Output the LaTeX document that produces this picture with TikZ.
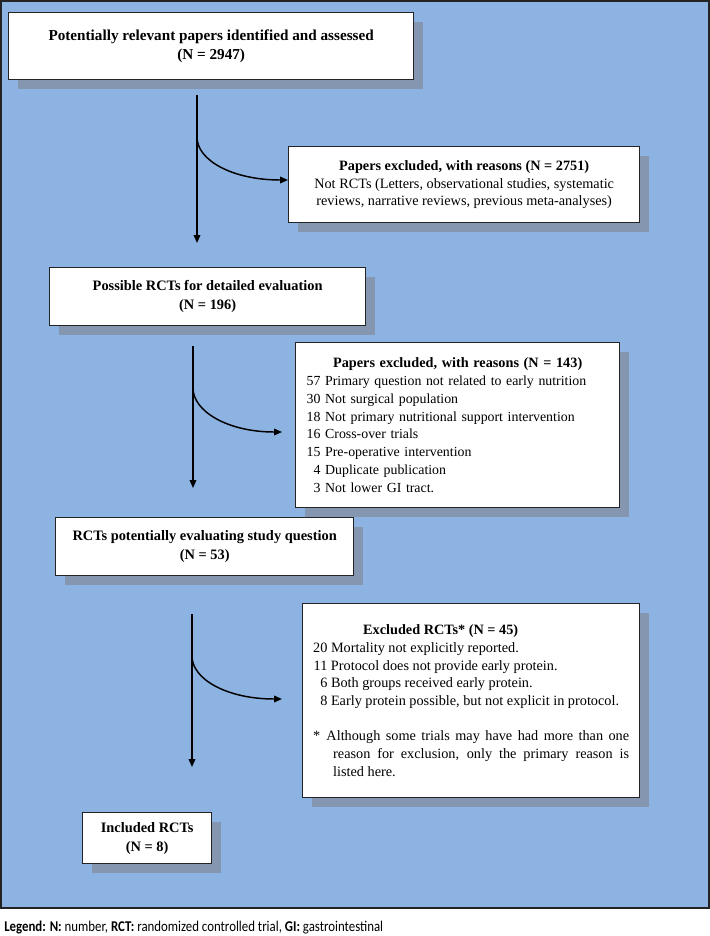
\documentclass[tikz,border=0pt]{standalone}
\usepackage{fontspec}
\setmainfont{Liberation Serif}
\newfontfamily\legendfont{Carlito}
\usetikzlibrary{arrows.meta,shadows}

\definecolor{panelblue}{RGB}{141,179,226}
\definecolor{shadowgray}{RGB}{132,150,176}
\definecolor{edgegray}{RGB}{35,35,35}

\newcommand\ncount[1]{\makebox[1em][r]{#1}\ }

\tikzset{
  box/.style={draw=edgegray,line width=1pt,fill=white,anchor=north west,inner sep=0pt,
    drop shadow={shadow xshift=6.75pt,shadow yshift=-6.75pt,fill=shadowgray,opacity=1}},
  head/.style={font=\fontsize{10.8}{14.3}\selectfont\bfseries,align=center},
  list/.style={font=\fontsize{10.7}{13.3}\selectfont},
  flow/.style={-{Triangle[length=6pt,width=5pt]},line width=1.1pt}
}

\begin{document}
\begin{tikzpicture}[x=0.75pt,y=-0.75pt]
  \useasboundingbox (0,0) rectangle (710,936);

  % Panel
  \draw[fill=panelblue,draw=edgegray,line width=1.1pt] (0.8,0.8) rectangle (709.2,908);

  % Boxes
  \node[box,minimum width=303.75pt,minimum height=50.25pt,align=center,
        font=\fontsize{11.4}{13.8}\selectfont\bfseries] (found) at (8,12)
        {Potentially relevant papers identified and assessed\\(N = 2947)};
  \node[box,list,minimum width=263.25pt,minimum height=57pt,align=center] (excl1) at (288,146)
        {\textbf{Papers excluded, with reasons (N = 2751)}\\
         Not RCTs (Letters, observational studies, systematic\\
         reviews, narrative reviews, previous meta-analyses)};
  \node[box,head,minimum width=237pt,minimum height=43.5pt] (possible) at (49,267)
        {Possible RCTs for detailed evaluation\\(N = 196)};
  \node[box,font=\fontsize{10.4}{13.3}\selectfont,minimum width=243pt,minimum height=123.75pt,
        text width=226.5pt,align=left] (excl2) at (295,342)
        {\makebox[226.5pt]{\fontsize{10.7}{13.3}\selectfont\bfseries Papers excluded, with reasons (N = 143)}\\
         \ncount{57}Primary question not related to early nutrition\\
         \ncount{30}Not surgical population\\
         \ncount{18}Not primary nutritional support intervention\\
         \ncount{16}Cross-over trials\\
         \ncount{15}Pre-operative intervention\\
         \ncount{4}Duplicate publication\\
         \ncount{3}Not lower GI tract.};
  \node[box,head,minimum width=223.5pt,minimum height=43.5pt] (potential) at (55,517)
        {RCTs potentially evaluating study question\\(N = 53)};
  \node[box,list,minimum width=252.75pt,minimum height=145.5pt,text width=237pt,align=justify] (excl3) at (302,603)
        {\hspace*{37.5pt}\textbf{Excluded RCTs* (N = 45)}\\
         \ncount{20}Mortality not explicitly reported.\\
         \ncount{11}Protocol does not provide early protein.\\
         \ncount{6}Both groups received early protein.\\
         \ncount{8}Early protein possible, but not explicit in protocol.\par
         \vspace{13pt}
         \noindent\hangindent=15pt\hangafter=1\makebox[10pt][l]{*}Although some trials may have had more than one\linebreak
         reason for exclusion, only the primary reason is\linebreak
         listed here.\par};
  \node[box,head,minimum width=96.75pt,minimum height=38.25pt] (included) at (82,812)
        {Included RCTs\\(N = 8)};

  % Arrows
  \coordinate (s1) at (197,95);  \coordinate (b1) at (197,137); \coordinate (e1) at (197,243);
  \coordinate (t1) at (288,180);
  \coordinate (s2) at (193,346); \coordinate (b2) at (193,388); \coordinate (e2) at (193,488);
  \coordinate (t2) at (282,432);
  \coordinate (s3) at (192,614); \coordinate (b3) at (192,656); \coordinate (e3) at (192,767);
  \coordinate (t3) at (282,699);
  \draw[flow] (s1) -- (e1);
  \draw[flow] (b1) to[out=-90,in=180,out looseness=0.6,in looseness=1.4] (t1);
  \draw[flow] (s2) -- (e2);
  \draw[flow] (b2) to[out=-90,in=180,out looseness=0.6,in looseness=1.4] (t2);
  \draw[flow] (s3) -- (e3);
  \draw[flow] (b3) to[out=-90,in=180,out looseness=0.6,in looseness=1.4] (t3);

  % Legend
  \node[anchor=base west,inner sep=0pt,font=\legendfont\fontsize{11.2}{13}\selectfont] (legend) at (4,931)
        {\scalebox{0.86}[1]{\textbf{Legend: N:} number, \textbf{RCT:} randomized controlled trial, \textbf{GI:} gastrointestinal}};
\end{tikzpicture}
\end{document}
